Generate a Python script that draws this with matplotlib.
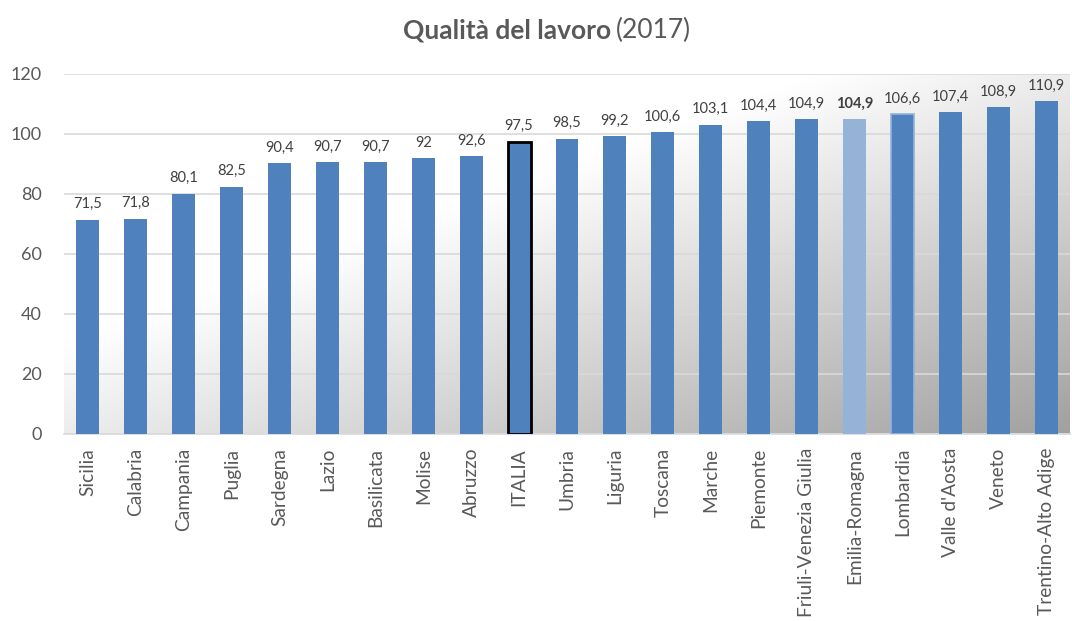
import numpy as np
import matplotlib
matplotlib.use("Agg")
import matplotlib.pyplot as plt

regions = ["Sicilia", "Calabria", "Campania", "Puglia", "Sardegna", "Lazio",
           "Basilicata", "Molise", "Abruzzo", "ITALIA", "Umbria", "Liguria",
           "Toscana", "Marche", "Piemonte", "Friuli-Venezia Giulia",
           "Emilia-Romagna", "Lombardia", "Valle d'Aosta", "Veneto",
           "Trentino-Alto Adige"]
values = [71.5, 71.8, 80.1, 82.5, 90.4, 90.7, 90.7, 92.0, 92.6, 97.5, 98.5,
          99.2, 100.6, 103.1, 104.4, 104.9, 104.9, 106.6, 107.4, 108.9, 110.9]
yticks = [0, 20, 40, 60, 80, 100, 120]

FONT = "Lato"
TXT = "#595959"
BLUE = "#4F81BD"
LIGHT = "#95B3D7"

fig = plt.figure(figsize=(10.72, 6.21), dpi=100)
fig.patch.set_facecolor("white")
ax = fig.add_axes([64 / 1072, 1 - 434 / 621, 1006 / 1072, 360 / 621])

# background gradient (white top-left -> gray bottom-right)
nx, ny = 400, 200
xs = np.linspace(0, 1, nx)
ys = np.linspace(1, 0, ny)
X, Y = np.meshgrid(xs, ys)
s = X - Y
g = np.where(s < -0.25, 1.0, 1.0 - 0.37 * (s + 0.25) / 1.25)
ax.imshow(np.dstack([g, g, g]), extent=[0, 1, 0, 1], transform=ax.transAxes,
          aspect="auto", zorder=0, interpolation="bilinear")

x = np.arange(len(regions))
colors = [BLUE] * len(regions)
edges = [BLUE] * len(regions)
lws = [0.0] * len(regions)
i_it = regions.index("ITALIA")
i_er = regions.index("Emilia-Romagna")
i_lo = regions.index("Lombardia")
colors[i_er] = LIGHT
edges[i_it] = "black"
lws[i_it] = 2.0
edges[i_lo] = LIGHT
lws[i_lo] = 1.2

bars = ax.bar(x, values, width=0.48, color=colors, edgecolor=edges,
              linewidth=lws, zorder=3)

for i, (xi, v) in enumerate(zip(x, values)):
    lab = f"{v:g}".replace(".", ",")
    ax.annotate(lab, (xi, v), xytext=(0, 6), textcoords="offset points",
                ha="center", va="bottom", fontsize=10.5, color="#404040",
                family=FONT, fontweight="bold" if i == i_er else "normal",
                zorder=4)

ax.set_xlim(-0.5, len(regions) - 0.5)
ax.set_ylim(0, 120)
ax.set_yticks(yticks)
ax.set_yticklabels([str(t) for t in yticks], family=FONT, fontsize=13,
                   color=TXT)
ax.set_xticks(x)
ax.set_xticklabels(regions, rotation=90, family=FONT, fontsize=13.8,
                   color=TXT, va="top", ha="center")
ax.tick_params(axis="y", length=0, pad=16)
ax.tick_params(axis="x", length=0, pad=10)
ax.yaxis.grid(True, color="#d9d9d9", linewidth=1.2, zorder=1)
ax.set_axisbelow(True)
for sp in ["top", "right", "left"]:
    ax.spines[sp].set_visible(False)
ax.spines["bottom"].set_color("#d9d9d9")
ax.spines["bottom"].set_linewidth(1.2)

fig.text(611 / 1072, 1 - 30 / 621, "Qualità del lavoro", ha="right",
         va="center", family=FONT, fontsize=19, fontweight="bold",
         color=TXT)
fig.text(616 / 1072, 1 - 30 / 621, "(2017)", ha="left", va="center",
         family=FONT, fontsize=19, color=TXT)

fig.savefig("out.png", dpi=100, facecolor="white")
